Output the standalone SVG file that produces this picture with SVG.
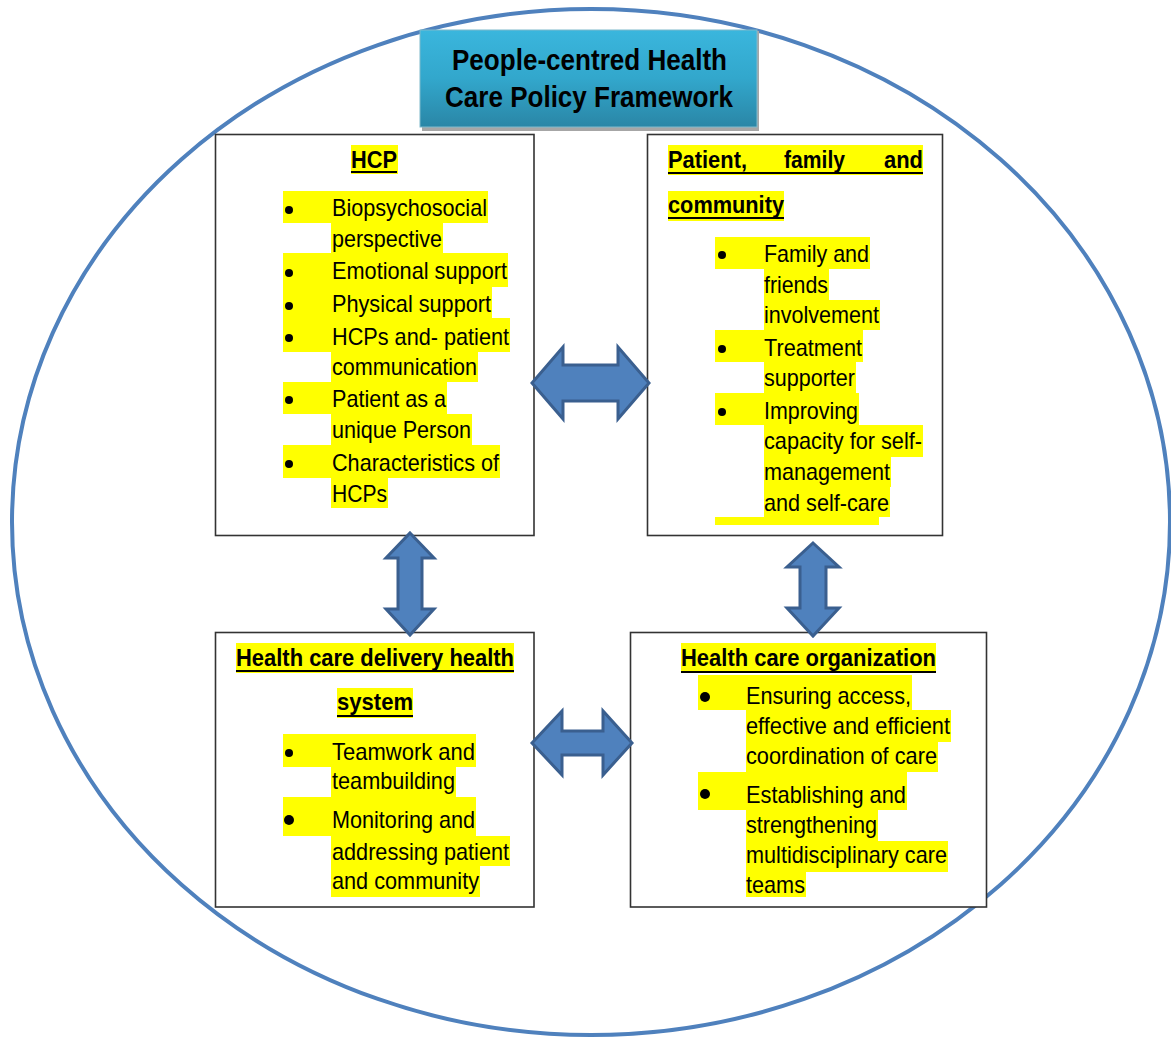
<svg xmlns="http://www.w3.org/2000/svg" width="1171" height="1039" viewBox="0 0 1171 1039">
<defs>
<linearGradient id="tg" x1="0" y1="0" x2="0" y2="1">
<stop offset="0" stop-color="#3ab6dd"/>
<stop offset="0.5" stop-color="#32a7cc"/>
<stop offset="1" stop-color="#2a86a6"/>
</linearGradient>
<style>
.box{fill:#fff;stroke:#333;stroke-width:1.6}
.hl{fill:#ffff00}
.t{font-family:"Liberation Sans Narrow","Liberation Sans",Arial,sans-serif;font-size:24px;fill:#000}
.b{font-family:"Liberation Sans Narrow","Liberation Sans",Arial,sans-serif;font-size:24px;font-weight:bold;fill:#000}
.ttl{font-family:"Liberation Sans Narrow","Liberation Sans",Arial,sans-serif;font-size:29px;font-weight:bold;fill:#000}
.ul{stroke:#000;stroke-width:2}
.arr{fill:#4f81bd;stroke:#3a5f8f;stroke-width:3;stroke-linejoin:miter}
</style>
</defs>
<rect width="1171" height="1039" fill="#fff"/>
<ellipse id="frame" cx="591" cy="522" rx="579" ry="513" fill="none" stroke="#4f81bd" stroke-width="4"/>

<g id="title">
<rect x="422" y="31" width="337" height="100" fill="#a6a6a6"/>
<rect x="420" y="30" width="337" height="97" fill="url(#tg)" stroke="#7fb9cc" stroke-width="1"/>
<text class="ttl" x="452" y="70" textLength="275" lengthAdjust="spacingAndGlyphs">People-centred Health</text>
<text class="ttl" x="445" y="107" textLength="288" lengthAdjust="spacingAndGlyphs">Care Policy Framework</text>
</g>

<g id="hcp">
<rect class="box" x="215.5" y="134.5" width="318.5" height="401"/>
<rect class="hl" x="351" y="145" width="47" height="29"/>
<rect class="hl" x="283" y="191" width="205" height="32"/>
<rect class="hl" x="331" y="223" width="112" height="30"/>
<rect class="hl" x="283" y="253" width="225" height="34"/>
<rect class="hl" x="283" y="287" width="209" height="31"/>
<rect class="hl" x="283" y="318" width="227" height="34"/>
<rect class="hl" x="331" y="352" width="147" height="30"/>
<rect class="hl" x="283" y="382" width="164" height="32"/>
<rect class="hl" x="331" y="414" width="141" height="31"/>
<rect class="hl" x="283" y="445" width="217" height="33"/>
<rect class="hl" x="331" y="478" width="57" height="30"/>
<text class="b" x="351" y="168" textLength="46" lengthAdjust="spacingAndGlyphs">HCP</text>
<line class="ul" x1="351" y1="172" x2="397" y2="172"/>
<circle cx="289" cy="210" r="4"/>
<circle cx="289" cy="273" r="4"/>
<circle cx="289" cy="306" r="4"/>
<circle cx="289" cy="338" r="4"/>
<circle cx="289" cy="400" r="4"/>
<circle cx="289" cy="464" r="4"/>
<text class="t" x="332" y="216" textLength="155" lengthAdjust="spacingAndGlyphs">Biopsychosocial</text>
<text class="t" x="332" y="247" textLength="110" lengthAdjust="spacingAndGlyphs">perspective</text>
<text class="t" x="332" y="279" textLength="175" lengthAdjust="spacingAndGlyphs">Emotional support</text>
<text class="t" x="332" y="312" textLength="159" lengthAdjust="spacingAndGlyphs">Physical support</text>
<text class="t" x="332" y="345" textLength="177" lengthAdjust="spacingAndGlyphs">HCPs and- patient</text>
<text class="t" x="332" y="375" textLength="145" lengthAdjust="spacingAndGlyphs">communication</text>
<text class="t" x="332" y="407" textLength="114" lengthAdjust="spacingAndGlyphs">Patient as a</text>
<text class="t" x="332" y="438" textLength="139" lengthAdjust="spacingAndGlyphs">unique Person</text>
<text class="t" x="332" y="471" textLength="167" lengthAdjust="spacingAndGlyphs">Characteristics of</text>
<text class="t" x="332" y="502" textLength="55" lengthAdjust="spacingAndGlyphs">HCPs</text>
</g>

<g id="patient">
<rect class="box" x="647.5" y="134.5" width="295" height="401"/>
<rect class="hl" x="668" y="145" width="255" height="30"/>
<rect class="hl" x="668" y="191" width="116" height="30"/>
<rect class="hl" x="715" y="237" width="155" height="32"/>
<rect class="hl" x="764" y="269" width="65" height="31"/>
<rect class="hl" x="764" y="300" width="116" height="30"/>
<rect class="hl" x="715" y="330" width="148" height="32"/>
<rect class="hl" x="764" y="362" width="92" height="31"/>
<rect class="hl" x="715" y="393" width="144" height="32"/>
<rect class="hl" x="764" y="425" width="159" height="32"/>
<rect class="hl" x="764" y="457" width="127" height="30"/>
<rect class="hl" x="764" y="487" width="126" height="30"/>
<rect class="hl" x="715" y="517" width="164" height="8"/>
<text class="b" x="668" y="168" textLength="79" lengthAdjust="spacingAndGlyphs">Patient,</text>
<text class="b" x="784" y="168" textLength="61" lengthAdjust="spacingAndGlyphs">family</text>
<text class="b" x="884" y="168" textLength="39" lengthAdjust="spacingAndGlyphs">and</text>
<line class="ul" x1="668" y1="173" x2="923" y2="173"/>
<text class="b" x="668" y="213" textLength="116" lengthAdjust="spacingAndGlyphs">community</text>
<line class="ul" x1="668" y1="218" x2="784" y2="218"/>
<circle cx="722" cy="255" r="4"/>
<circle cx="722" cy="349" r="4"/>
<circle cx="722" cy="412" r="4"/>
<text class="t" x="764" y="262" textLength="105" lengthAdjust="spacingAndGlyphs">Family and</text>
<text class="t" x="764" y="293" textLength="64" lengthAdjust="spacingAndGlyphs">friends</text>
<text class="t" x="764" y="323" textLength="115" lengthAdjust="spacingAndGlyphs">involvement</text>
<text class="t" x="764" y="356" textLength="98" lengthAdjust="spacingAndGlyphs">Treatment</text>
<text class="t" x="764" y="386" textLength="91" lengthAdjust="spacingAndGlyphs">supporter</text>
<text class="t" x="764" y="419" textLength="94" lengthAdjust="spacingAndGlyphs">Improving</text>
<text class="t" x="764" y="449" textLength="158" lengthAdjust="spacingAndGlyphs">capacity for self-</text>
<text class="t" x="764" y="480" textLength="126" lengthAdjust="spacingAndGlyphs">management</text>
<text class="t" x="764" y="511" textLength="125" lengthAdjust="spacingAndGlyphs">and self-care</text>
</g>

<g id="delivery">
<rect class="box" x="215.5" y="632.5" width="318.5" height="274.5"/>
<rect class="hl" x="236" y="643" width="278" height="30"/>
<rect class="hl" x="337" y="688" width="76" height="30"/>
<rect class="hl" x="283" y="734" width="193" height="33"/>
<rect class="hl" x="331" y="767" width="125" height="30"/>
<rect class="hl" x="283" y="797" width="193" height="39"/>
<rect class="hl" x="331" y="836" width="179" height="30"/>
<rect class="hl" x="331" y="866" width="149" height="31"/>
<text class="b" x="236" y="666" textLength="278" lengthAdjust="spacingAndGlyphs">Health care delivery health</text>
<line class="ul" x1="236" y1="671" x2="514" y2="671"/>
<text class="b" x="337" y="710" textLength="76" lengthAdjust="spacingAndGlyphs">system</text>
<line class="ul" x1="337" y1="716" x2="413" y2="716"/>
<circle cx="289" cy="753" r="4"/>
<circle cx="289" cy="820" r="5"/>
<text class="t" x="332" y="760" textLength="143" lengthAdjust="spacingAndGlyphs">Teamwork and</text>
<text class="t" x="332" y="789" textLength="123" lengthAdjust="spacingAndGlyphs">teambuilding</text>
<text class="t" x="332" y="828" textLength="143" lengthAdjust="spacingAndGlyphs">Monitoring and</text>
<text class="t" x="332" y="860" textLength="177" lengthAdjust="spacingAndGlyphs">addressing patient</text>
<text class="t" x="332" y="889" textLength="147" lengthAdjust="spacingAndGlyphs">and community</text>
</g>

<g id="organization">
<rect class="box" x="630.5" y="632.5" width="356" height="274.5"/>
<rect class="hl" x="681" y="643" width="255" height="30"/>
<rect class="hl" x="698" y="675" width="214" height="35"/>
<rect class="hl" x="746" y="710" width="205" height="32"/>
<rect class="hl" x="746" y="742" width="192" height="30"/>
<rect class="hl" x="698" y="772" width="209" height="38"/>
<rect class="hl" x="746" y="810" width="132" height="31"/>
<rect class="hl" x="746" y="841" width="202" height="31"/>
<rect class="hl" x="746" y="872" width="60" height="25"/>
<text class="b" x="681" y="666" textLength="255" lengthAdjust="spacingAndGlyphs">Health care organization</text>
<line class="ul" x1="681" y1="672" x2="936" y2="672"/>
<circle cx="705" cy="697" r="5"/>
<circle cx="705" cy="794" r="5"/>
<text class="t" x="746" y="704" textLength="165" lengthAdjust="spacingAndGlyphs">Ensuring access,</text>
<text class="t" x="746" y="734" textLength="204" lengthAdjust="spacingAndGlyphs">effective and efficient</text>
<text class="t" x="746" y="764" textLength="191" lengthAdjust="spacingAndGlyphs">coordination of care</text>
<text class="t" x="746" y="803" textLength="160" lengthAdjust="spacingAndGlyphs">Establishing and</text>
<text class="t" x="746" y="833" textLength="131" lengthAdjust="spacingAndGlyphs">strengthening</text>
<text class="t" x="746" y="863" textLength="201" lengthAdjust="spacingAndGlyphs">multidisciplinary care</text>
<text class="t" x="746" y="893" textLength="59" lengthAdjust="spacingAndGlyphs">teams</text>
</g>

<g id="connectors">
<polygon class="arr" points="532,383 563,347 563,365 618,365 618,347 649,383 618,419 618,401 563,401 563,419"/>
<polygon class="arr" points="532,743 562,711 562,731 603,731 603,711 632,743 603,775 603,755 562,755 562,775"/>
<polygon class="arr" points="410,533 434,558 422,558 422,609 434,609 410,635 386,609 398,609 398,558 386,558"/>
<polygon class="arr" points="813,543 839,567 826,567 826,608 839,608 813,636 787,608 800,608 800,567 787,567"/>
</g>
</svg>
